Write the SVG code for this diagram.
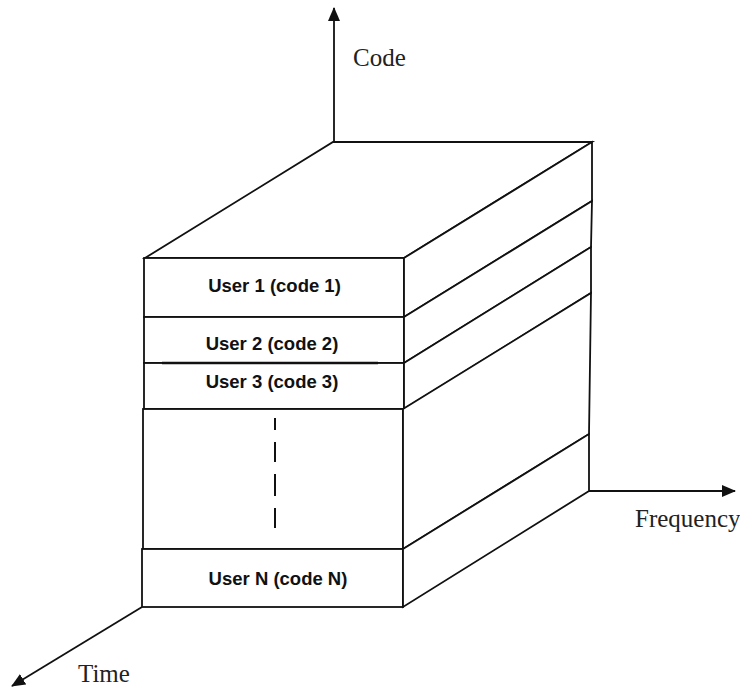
<svg xmlns="http://www.w3.org/2000/svg" width="740" height="691" viewBox="0 0 740 691">
  <defs>
    <marker id="arrowhead" markerWidth="14" markerHeight="12" refX="13" refY="6" orient="auto" markerUnits="userSpaceOnUse">
      <path d="M0,0 L14,6 L0,12 Z" fill="#111"/>
    </marker>
  </defs>
  <style>
    .edge { fill: #fff; stroke: #111; stroke-width: 1.8; stroke-linejoin: miter; }
    .line { fill: none; stroke: #111; stroke-width: 1.8; }
    .axis { fill: none; stroke: #111; stroke-width: 1.8; marker-end: url(#arrowhead); }
    .label { font-family: "Liberation Sans", Arial, sans-serif; font-weight: bold; font-size: 18.5px; fill: #111; text-anchor: middle; }
    .axis-label { font-family: "Liberation Serif", "Times New Roman", serif; font-size: 25px; fill: #222; }
  </style>
  <rect width="740" height="691" fill="#fff"/>

  <!-- axes -->
  <g id="connectors">
    <path class="axis" d="M334,142 L334,8"/>
    <path class="axis" d="M589,491 L735,491"/>
    <path class="axis" d="M142,607 L12,686"/>
  </g>

  <!-- top face of the block -->
  <g id="top-face">
    <polygon class="edge" points="145,258 333,142 592,142 404,258"/>
  </g>

  <!-- slab 1 -->
  <g id="user-1">
    <rect class="edge" x="144" y="258" width="260" height="59"/>
    <polygon class="edge" points="404,258 592,142 592,201 404,317"/>
    <text class="label" x="274.5" y="292">User 1 (code 1)</text>
  </g>

  <!-- slab 2 -->
  <g id="user-2">
    <rect class="edge" x="144" y="317" width="260" height="46"/>
    <polygon class="edge" points="404,317 592,201 591,247 404,363"/>
    <text class="label" x="272" y="350">User 2 (code 2)</text>
  </g>

  <!-- slab 3 -->
  <g id="user-3">
    <rect class="edge" x="144" y="363" width="260" height="46"/>
    <polygon class="edge" points="404,363 591,247 591,293 404,409"/>
    <line x1="162" y1="363" x2="378" y2="363" stroke="#111" stroke-width="2.6"/>
    <text class="label" x="272" y="388">User 3 (code 3)</text>
  </g>

  <!-- intermediate slabs, elided -->
  <g id="ellipsis">
    <rect class="edge" x="143" y="409" width="260" height="140"/>
    <polygon class="edge" points="403,409 591,293 589,434 403,549"/>
    <line x1="275" y1="418" x2="275" y2="535" stroke="#111" stroke-width="2" stroke-dasharray="12 12 20 12 22 12 20 12"/>
  </g>

  <!-- slab N -->
  <g id="user-n">
    <rect class="edge" x="142" y="549" width="261" height="58"/>
    <polygon class="edge" points="403,549 589,434 589,491 403,607"/>
    <text class="label" x="278" y="585">User N (code N)</text>
  </g>

  <!-- axis labels -->
  <g id="label-code"><text class="axis-label" x="353" y="66">Code</text></g>
  <g id="label-frequency"><text class="axis-label" x="635" y="527">Frequency</text></g>
  <g id="label-time"><text class="axis-label" x="78" y="682">Time</text></g>
</svg>
